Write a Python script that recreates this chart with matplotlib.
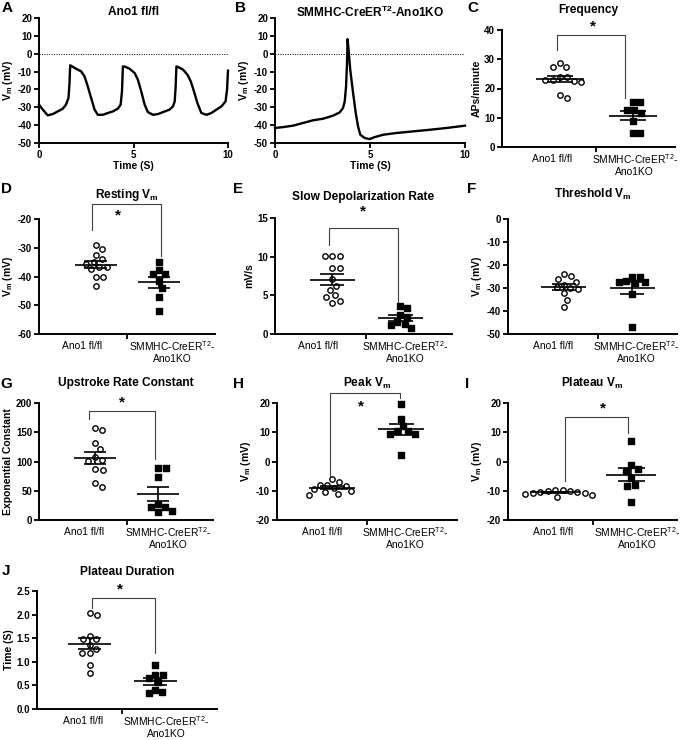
import numpy as np
import matplotlib
matplotlib.use("Agg")
import matplotlib.pyplot as plt

plt.rcParams['font.family'] = ['Liberation Sans', 'DejaVu Sans']
plt.rcParams['font.weight'] = 'bold'
plt.rcParams['axes.labelweight'] = 'bold'
plt.rcParams['axes.unicode_minus'] = False
plt.rcParams['mathtext.fontset'] = 'custom'
plt.rcParams['mathtext.rm'] = 'Liberation Sans:weight=normal'
plt.rcParams['mathtext.it'] = 'Liberation Sans:italic'
plt.rcParams['mathtext.bf'] = 'Liberation Sans:bold'

W, H = 685, 740

trace_a_t = [0.0, 0.2, 0.46, 0.73, 0.99, 1.26, 1.43, 1.56, 1.61, 1.65, 1.75, 1.96, 2.23, 2.41,
             2.58, 2.76, 2.94, 3.11, 3.38, 3.64, 3.91, 4.17, 4.32, 4.39, 4.44, 4.56, 4.79, 5.06,
             5.23, 5.41, 5.59, 5.76, 6.03, 6.29, 6.56, 6.91, 7.09, 7.18, 7.23, 7.27, 7.39, 7.62,
             7.85, 8.03, 8.20, 8.38, 8.59, 8.86, 9.12, 9.39, 9.65, 9.87, 9.95, 10.0]
trace_a_v = [-28.5, -31.3, -34.5, -33.8, -32.3, -30.8, -28.5, -24.8, -17.3, -6.5, -7.1, -8.4, -9.9, -12.7,
             -18.3, -24.8, -31.3, -34.2, -34.2, -33.2, -32.3, -30.8, -28.5, -21.1, -7.1, -7.3, -8.4, -10.8,
             -14.5, -21.1, -28.5, -32.7, -34.2, -33.8, -32.7, -31.3, -29.5, -26.7, -18.4, -7.1, -7.6, -8.9,
             -11.7, -15.5, -21.1, -27.6, -33.2, -34.2, -33.2, -31.3, -29.5, -26.7, -20.0, -9.5]
trace_b_t = [0.0, 0.42, 0.95, 1.47, 2.0, 2.53, 3.05, 3.40, 3.58, 3.67, 3.74, 3.79, 3.82, 3.88,
             3.96, 4.11, 4.25, 4.37, 4.49, 4.72, 4.98, 5.25, 5.68, 6.39, 7.26, 8.14, 9.02, 10.0]
trace_b_v = [-41.6, -41.1, -40.3, -38.8, -37.3, -36.4, -34.7, -32.9, -30.4, -26.7, -18.3, -5.2, 8.2, 1.3,
             -9.0, -22.0, -33.2, -40.7, -45.4, -47.2, -47.8, -46.7, -45.4, -44.4, -43.5, -42.6, -41.6, -40.3]

# --- per-cell values, Ano1 fl/fl (wt) and SMMHC-CreER-T2-Ano1KO (ko)
freq_wt = [27.4, 27.4, 28.6, 22.5, 23.8, 24.0, 22.9, 22.3, 16.9, 17.9, 22.8]
freq_ko = [15.3, 15.3, 12.8, 11.5, 12.5, 9.0, 4.8, 4.8]
rest_wt = [-29.0, -30.5, -32.5, -33.9, -35.0, -36.8, -37.5, -36.8, -40.0, -40.0, -43.2, -35.5]
rest_ko = [-34.8, -39.2, -39.2, -37.7, -41.7, -44.0, -47.2, -51.9]
slow_wt = [10.06, 10.06, 10.06, 8.55, 8.55, 7.05, 6.2, 5.67, 5.0, 4.8, 4.0, 4.3]
slow_ko = [3.6, 3.3, 2.5, 2.2, 1.6, 1.3, 1.2, 0.8]
thr_wt = [-24.1, -24.8, -26.1, -27.2, -28.5, -29.5, -30.1, -30.5, -32.3, -35.2, -38.1]
thr_ko = [-25.1, -25.1, -27.0, -27.5, -27.5, -28.0, -32.8, -46.8]
up_wt = [153, 157, 131, 122, 103, 107, 101, 87, 86, 57, 63]
up_ko = [89, 89, 73, 27, 23, 14, 16, 22]
peak_wt = [-6.9, -6.1, -8.0, -9.0, -8.0, -8.3, -10.5, -10.0, -11.4, -11.1, -9.5]
peak_ko = [19.8, 14.5, 12.0, 10.3, 10.3, 9.4, 9.4, 2.1]
plat_wt = [-9.6, -9.7, -10.0, -10.2, -10.4, -10.5, -10.6, -10.8, -11.0, -11.5, -12.1]
plat_ko = [7.1, -1.3, -2.6, -3.1, -5.7, -8.0, -8.3, -13.7]
dur_wt = [2.04, 1.99, 1.55, 1.49, 1.49, 1.35, 1.28, 1.19, 1.19, 0.93, 0.76]
dur_ko = [0.94, 0.72, 0.72, 0.65, 0.57, 0.41, 0.34, 0.35]

fig = plt.figure(figsize=(W / 100, H / 100), dpi=100)


def add_ax(x0, y0, x1, y1):
    ax = fig.add_axes([x0 / W, 1 - y1 / H, (x1 - x0) / W, (y1 - y0) / H])
    ax.spines['top'].set_visible(False)
    ax.spines['right'].set_visible(False)
    ax.spines['left'].set_linewidth(1.4)
    ax.spines['bottom'].set_linewidth(1.4)
    ax.tick_params(width=1.3, length=3.5, labelsize=7, pad=1.5)
    return ax


def fig_text(x, y, s, **kw):
    fig.text(x / W, 1 - y / H, s, ha='center', va='center', **kw)


def swarm(ax, vals, center, d=7.5):
    # simple beeswarm in pixel space
    pts = ax.transData.transform(np.column_stack([np.full(len(vals), center), vals]))
    ys = pts[:, 1]
    ppu = ax.transData.transform([[1, 0]])[0, 0] - ax.transData.transform([[0, 0]])[0, 0]
    placed = []
    xs = np.zeros(len(vals))
    for i in np.argsort(-ys):
        cands = [0.0]
        for (px, py) in placed:
            dy = ys[i] - py
            if abs(dy) < d:
                r = np.sqrt(d * d - dy * dy)
                cands += [px + r, px - r]
        cands.sort(key=abs)
        for c in cands:
            if all((c - px) ** 2 + (ys[i] - py) ** 2 >= d * d - 1e-6 for (px, py) in placed):
                xs[i] = c
                break
        placed.append((xs[i], ys[i]))
    return center + xs / ppu


def dot_panel(letter, box, xlim, ylim, ystep, ylabel, wt, ko, title, ty, lab_x,
              bracket=None, star=None, fmt=None):
    ax = add_ax(*box)
    ax.set_xlim(*xlim)
    ax.set_ylim(*ylim)
    ax.set_yticks(np.arange(ylim[0], ylim[1] + ystep / 2, ystep))
    if fmt:
        ax.set_yticklabels([fmt % v for v in ax.get_yticks()])
    ax.set_xticks([0.5])
    ax.set_xticklabels([''])
    ax.set_ylabel(ylabel, fontsize=7.5, labelpad=2)

    for c, vals, style in [(0, wt, 'wt'), (1, ko, 'ko')]:
        xs = swarm(ax, vals, c)
        if style == 'wt':
            ax.scatter(xs, vals, s=15, facecolors='white', edgecolors='black',
                       linewidths=1.0, zorder=2, clip_on=False)
        else:
            ax.scatter(xs, vals, s=14, marker='s', color='black', zorder=2, clip_on=False)
        m = np.mean(vals)
        se = np.std(vals, ddof=1) / np.sqrt(len(vals))
        ax.hlines(m, c - 0.33, c + 0.33, color='black', lw=1.2, zorder=3)
        ax.hlines([m - se, m + se], c - 0.18, c + 0.18, color='black', lw=1.2, zorder=3)
        ax.vlines(c, m - se, m + se, color='black', lw=1.2, zorder=3)

    tr = ax.get_xaxis_transform()
    kw = dict(xycoords=tr, textcoords='offset points', ha='center', va='center',
              fontsize=7.4, fontweight='normal')
    ax.annotate('Ano1 fl/fl', (lab_x[0], 0), xytext=(0, -8.5), **kw)
    ax.annotate(r'SMMHC-CreER$^{\mathrm{T2}}$-', (lab_x[1], 0), xytext=(0, -8.5), **kw)
    ax.annotate('Ano1KO', (lab_x[1], 0), xytext=(0, -18), **kw)

    if bracket:
        top, yl, yr, xl, xr = bracket
        ax.plot([xl, xl, xr, xr], [yl, top, top, yr], color='0.25', lw=0.8, clip_on=False)
        ax.text(star[0], star[1], '*', ha='center', va='center', fontsize=11)

    fig_text((box[0] + box[2]) / 2, ty, title, fontsize=8.6)
    return ax


# --- panels A and B: traces
for letter, lx, box, t, v, title in [
        ('A', 7, (39, 18, 228, 143), trace_a_t, trace_a_v, 'Ano1 fl/fl'),
        ('B', 240, (275, 18, 465, 143), trace_b_t, trace_b_v, r'SMMHC-CreER$^{\mathbf{T2}}$-Ano1KO')]:
    ax = add_ax(*box)
    ax.plot(t, v, color='black', lw=1.7, clip_on=False)
    ax.axhline(0, color='black', lw=0.7, ls=(0, (1, 1.5)))
    ax.set_xlim(0, 10)
    ax.set_ylim(-50, 20)
    ax.set_xticks([0, 5, 10])
    ax.set_yticks(range(-50, 21, 10))
    ax.set_xlabel('Time (S)', fontsize=7.5, labelpad=1)
    ax.set_ylabel(r'$\mathbf{V_m}$ (mV)', fontsize=7.5, labelpad=2)
    fig_text((box[0] + box[2]) / 2, 12, title, fontsize=8.6)
    fig_text(lx, 8, letter, fontsize=11)

vm = r'$\mathbf{V_m}$ (mV)'

dot_panel('C', (502, 30, 675, 147), (-0.79, 1.58), (0, 40), 10, 'APs/minute', freq_wt, freq_ko,
          'Frequency', 10, (-0.11, 1.03), bracket=(38.3, 33, 16.8, -0.04, 0.9), star=(0.45, 41.1))
dot_panel('D', (39, 219, 215, 334), (-0.9, 1.89), (-60, -20), 10, vm, rest_wt, rest_ko,
          r'Resting $\mathbf{V_m}$', 195, (-0.22, 1.21), bracket=(-14.8, -23.8, -32.8, -0.06, 1.03),
          star=(0.35, -18.6))
dot_panel('E', (275, 218, 452, 334), (-0.84, 1.76), (0, 15), 5, 'mV/s', slow_wt, slow_ko,
          'Slow Depolarization Rate', 197, (-0.21, 1.07), bracket=(13.75, 11.5, 4.2, -0.04, 0.96),
          star=(0.45, 15.9))
dot_panel('F', (508, 219, 677, 334), (-0.82, 1.66), (-50, 0), 10, vm, thr_wt, thr_ko,
          r'Threshold $\mathbf{V_m}$', 194, (-0.16, 1.07))
dot_panel('G', (39, 403, 213, 520), (-0.89, 1.87), (0, 200), 50, 'Exponential Constant', up_wt, up_ko,
          'Upstroke Rate Constant', 383, (-0.17, 1.16), bracket=(187, 172.6, 104, -0.09, 0.95),
          star=(0.42, 201))
dot_panel('H', (277, 403, 457, 520), (-0.8, 1.81), (-20, 20), 10, vm, peak_wt, peak_ko,
          r'Peak $\mathbf{V_m}$', 383, (-0.14, 1.06), bracket=(23.4, -5.1, 21.7, -0.03, 0.99),
          star=(0.42, 18.9))
dot_panel('I', (508, 403, 677, 520), (-0.62, 1.6), (-20, 20), 10, vm, plat_wt, plat_ko,
          r'Plateau $\mathbf{V_m}$', 383, (-0.03, 1.08), bracket=(15.1, -6.5, 9.7, 0.13, 0.95),
          star=(0.63, 18.3))
dot_panel('J', (37, 591, 217, 709), (-0.8, 1.94), (0, 2.5), 0.5, 'Time (S)', dur_wt, dur_ko,
          'Plateau Duration', 572, (-0.10, 1.17), bracket=(2.36, 2.15, 1.19, 0.04, 1.0),
          star=(0.46, 2.53), fmt='%.1f')

for letter, x, y in [('C', 473, 8), ('D', 6, 189), ('E', 238, 189), ('F', 472, 189),
                     ('G', 6, 384), ('H', 238, 384), ('I', 467, 384), ('J', 6, 571)]:
    fig_text(x, y, letter, fontsize=11)

fig.savefig('out.png', dpi=100)
